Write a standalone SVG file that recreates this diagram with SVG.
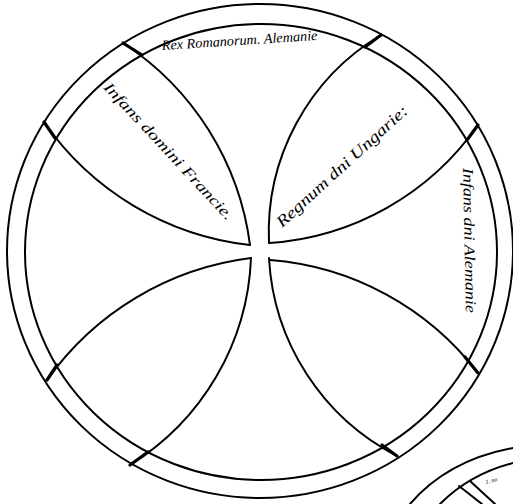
<svg xmlns="http://www.w3.org/2000/svg" width="513" height="504" viewBox="0 0 513 504">
<style>
.ln{fill:none;stroke:#000;stroke-width:2;stroke-linecap:round}
.rim{fill:none;stroke:#000;stroke-width:3.2;stroke-linecap:round}
.hand{font-family:"Liberation Serif","DejaVu Serif",serif;font-style:italic;fill:#000}
</style>
<rect width="513" height="504" fill="#fff"/>
<g id="rings">
<ellipse class="ln" cx="260" cy="251" rx="253" ry="247"/>
<ellipse class="ln" cx="261" cy="252" rx="236" ry="228"/>
</g>
<g id="arcs">
<path class="ln" d="M 123 43 A 285 285 0 0 1 250 245"/>
<path class="ln" d="M 44 122 A 290 290 0 0 0 250 245"/>
<path class="ln" d="M 381 35 A 230 230 0 0 0 269 243"/>
<path class="ln" d="M 478 125 A 277 277 0 0 1 269 243"/>
<path class="ln" d="M 47 380 A 295 295 0 0 1 251 258"/>
<path class="ln" d="M 130 465 A 255 255 0 0 0 251 258"/>
<path class="ln" d="M 397 456 A 237 237 0 0 1 269 258"/>
<path class="ln" d="M 478 373 A 290 290 0 0 0 270 260"/>
</g>
<g id="rim-dividers">
<path class="rim" d="M 123 43 L 142 55"/>
<path class="rim" d="M 44 122 L 55 138"/>
<path class="rim" d="M 381 35 L 365 47"/>
<path class="rim" d="M 478 125 L 467 140"/>
<path class="rim" d="M 47 380 L 57 365"/>
<path class="rim" d="M 130 465 L 148 452"/>
<path class="rim" d="M 397 456 L 382 445"/>
<path class="rim" d="M 478 373 L 465 357"/>
</g>
<g id="labels">
<text class="hand" font-size="14" transform="translate(162,50) rotate(-3.7)" textLength="156" lengthAdjust="spacingAndGlyphs">Rex Romanorum. Alemanie</text>
<text class="hand" font-size="15" transform="translate(103,88) rotate(47)" textLength="182" lengthAdjust="spacingAndGlyphs">Infans domini Francie.</text>
<text class="hand" font-size="16" transform="translate(282,228) rotate(-42.4)" textLength="172" lengthAdjust="spacingAndGlyphs">Regnum dni Ungarie:</text>
<text class="hand" font-size="15" transform="translate(463,168) rotate(88.8)" textLength="145" lengthAdjust="spacingAndGlyphs">Infans dni Alemanie</text>
</g>
<g id="second-circle">
<path class="ln" d="M 410 504 Q 448 460 513 448"/>
<path class="ln" d="M 440 504 Q 470 474 513 463"/>
<path class="ln" d="M 459 486 L 482 504"/>
<path class="ln" d="M 470 481 L 495 504"/>
<text class="hand" font-size="6" transform="translate(486,484) rotate(-14)">1. no</text>
</g>
</svg>
